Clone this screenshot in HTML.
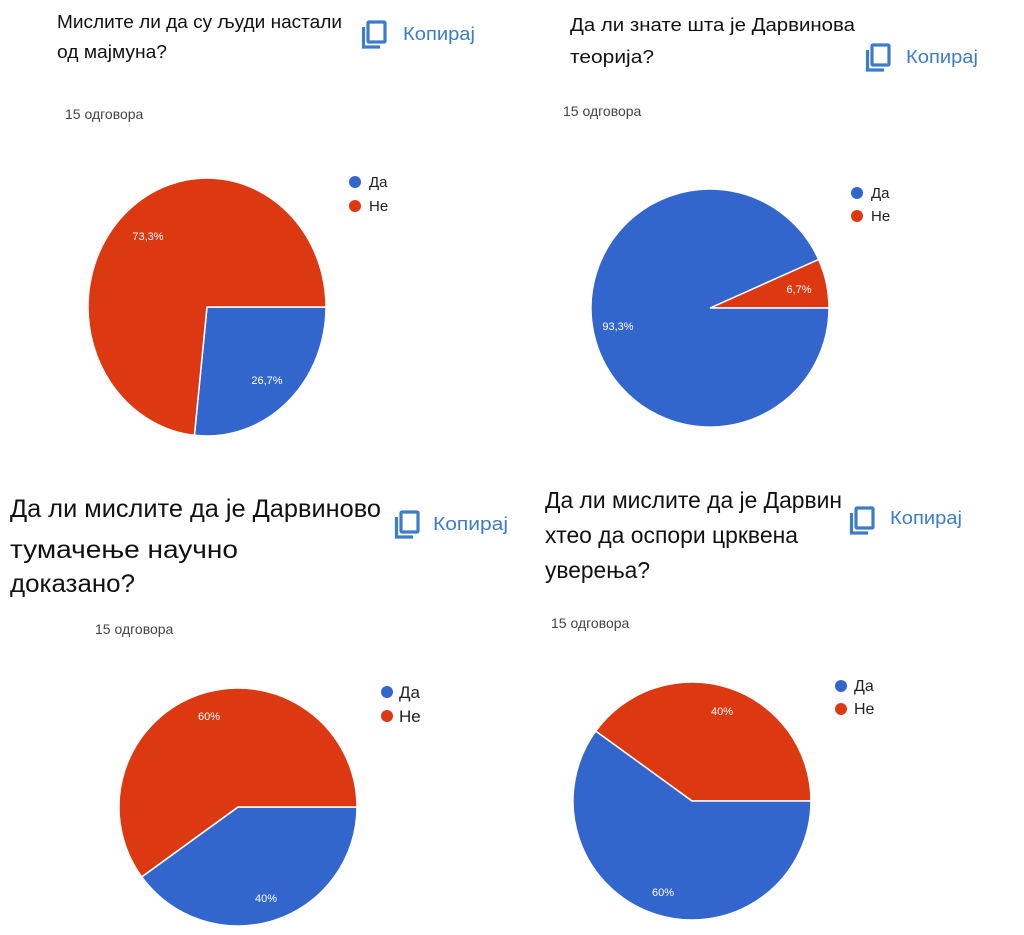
<!DOCTYPE html>
<html><head><meta charset="utf-8"><style>
html,body{margin:0;padding:0;background:#fff;}
svg{display:block;font-family:"Liberation Sans","DejaVu Sans",sans-serif;}
</style></head><body>
<svg width="1024" height="935" viewBox="0 0 1024 935" xmlns="http://www.w3.org/2000/svg">
<defs>
<g id="ic" fill="none" stroke="#3d7cc9" stroke-width="3.2">
<rect x="6" y="2" width="17" height="20" rx="1"/>
<path d="M1.5 7 V27 H18"/>
</g>
</defs>
<!-- Chart 1 -->
<text x="57" y="28" font-size="18.5" fill="#111" textLength="285" lengthAdjust="spacingAndGlyphs">Мислите ли да су људи настали</text>
<text x="57" y="58" font-size="18.5" fill="#111" textLength="110" lengthAdjust="spacingAndGlyphs">од мајмуна?</text>
<use href="#ic" x="362" y="20"/>
<text x="403" y="40" font-size="18" fill="#3d7cc9" textLength="72" lengthAdjust="spacingAndGlyphs">Копирај</text>
<text x="65" y="119" font-size="14" fill="#444">15 одговора</text>
<path d="M207,307 L326,307 A119,129 0 0 1 194.4,435.3 Z" fill="#3366cc" stroke="#fff" stroke-width="1.5"/>
<path d="M207,307 L194.4,435.3 A119,129 0 1 1 326,307 Z" fill="#dc3912" stroke="#fff" stroke-width="1.5"/>
<text x="148" y="240" font-size="11" fill="#fff" text-anchor="middle">73,3%</text>
<text x="267" y="384" font-size="11" fill="#fff" text-anchor="middle">26,7%</text>
<circle cx="355" cy="182" r="6" fill="#3366cc"/><text x="369" y="187" font-size="15" fill="#222">Да</text>
<circle cx="355" cy="206" r="6" fill="#dc3912"/><text x="369" y="211" font-size="15" fill="#222">Не</text>
<!-- Chart 2 -->
<text x="570" y="31" font-size="18.5" fill="#111" textLength="285" lengthAdjust="spacingAndGlyphs">Да ли знате шта је Дарвинова</text>
<text x="570" y="63" font-size="18.5" fill="#111" textLength="84" lengthAdjust="spacingAndGlyphs">теорија?</text>
<use href="#ic" x="866" y="43"/>
<text x="906" y="63" font-size="18" fill="#3d7cc9" textLength="72" lengthAdjust="spacingAndGlyphs">Копирај</text>
<text x="563" y="116" font-size="14" fill="#444">15 одговора</text>
<path d="M710,308 L829,308 A119,119 0 0 0 818.6,259.4 Z" fill="#dc3912" stroke="#fff" stroke-width="1.5"/>
<path d="M710,308 L818.6,259.4 A119,119 0 1 0 829,308 Z" fill="#3366cc" stroke="#fff" stroke-width="1.5"/>
<text x="799" y="293" font-size="11" fill="#fff" text-anchor="middle">6,7%</text>
<text x="618" y="330" font-size="11" fill="#fff" text-anchor="middle">93,3%</text>
<circle cx="857" cy="193" r="6" fill="#3366cc"/><text x="871" y="198" font-size="15" fill="#222">Да</text>
<circle cx="857" cy="216" r="6" fill="#dc3912"/><text x="871" y="221" font-size="15" fill="#222">Не</text>
<!-- Chart 3 -->
<text x="10" y="517" font-size="25" fill="#111" textLength="371" lengthAdjust="spacingAndGlyphs">Да ли мислите да је Дарвиново</text>
<text x="10" y="558" font-size="25" fill="#111" textLength="228" lengthAdjust="spacingAndGlyphs">тумачење научно</text>
<text x="10" y="592" font-size="25" fill="#111" textLength="125" lengthAdjust="spacingAndGlyphs">доказано?</text>
<use href="#ic" x="395" y="510"/>
<text x="433" y="530" font-size="18" fill="#3d7cc9" textLength="75" lengthAdjust="spacingAndGlyphs">Копирај</text>
<text x="95" y="634" font-size="14" fill="#444">15 одговора</text>
<path d="M238,807 L357,807 A119,119 0 0 1 141.7,876.9 Z" fill="#3366cc" stroke="#fff" stroke-width="1.5"/>
<path d="M238,807 L141.7,876.9 A119,119 0 1 1 357,807 Z" fill="#dc3912" stroke="#fff" stroke-width="1.5"/>
<text x="209" y="720" font-size="11" fill="#fff" text-anchor="middle">60%</text>
<text x="266" y="902" font-size="11" fill="#fff" text-anchor="middle">40%</text>
<circle cx="387" cy="692" r="6" fill="#3366cc"/><text x="399" y="698" font-size="17" fill="#222">Да</text>
<circle cx="387" cy="716" r="6" fill="#dc3912"/><text x="399" y="722" font-size="17" fill="#222">Не</text>
<!-- Chart 4 -->
<text x="545" y="508" font-size="23" fill="#111" textLength="297" lengthAdjust="spacingAndGlyphs">Да ли мислите да је Дарвин</text>
<text x="545" y="543" font-size="23" fill="#111" textLength="253" lengthAdjust="spacingAndGlyphs">хтео да оспори црквена</text>
<text x="545" y="578" font-size="23" fill="#111" textLength="105" lengthAdjust="spacingAndGlyphs">уверења?</text>
<use href="#ic" x="850" y="506"/>
<text x="890" y="524" font-size="18" fill="#3d7cc9" textLength="72" lengthAdjust="spacingAndGlyphs">Копирај</text>
<text x="551" y="628" font-size="14" fill="#444">15 одговора</text>
<path d="M692,801 L811,801 A119,119 0 0 0 595.7,731.1 Z" fill="#dc3912" stroke="#fff" stroke-width="1.5"/>
<path d="M692,801 L595.7,731.1 A119,119 0 1 0 811,801 Z" fill="#3366cc" stroke="#fff" stroke-width="1.5"/>
<text x="722" y="715" font-size="11" fill="#fff" text-anchor="middle">40%</text>
<text x="663" y="896" font-size="11" fill="#fff" text-anchor="middle">60%</text>
<circle cx="841" cy="686" r="6" fill="#3366cc"/><text x="854" y="691" font-size="16" fill="#222">Да</text>
<circle cx="841" cy="709" r="6" fill="#dc3912"/><text x="854" y="714" font-size="16" fill="#222">Не</text>
</svg>
</body></html>
